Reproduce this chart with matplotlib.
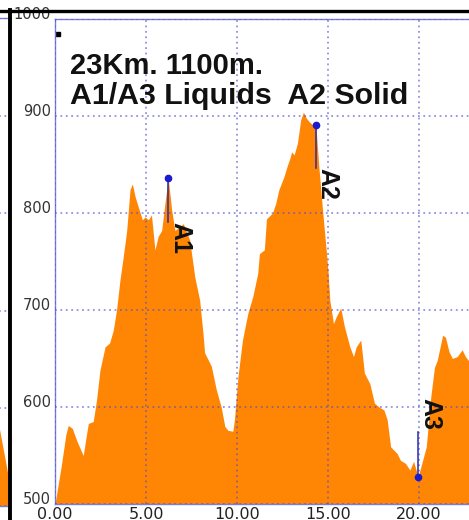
import matplotlib
matplotlib.use('Agg')
import matplotlib.pyplot as plt
from matplotlib.lines import Line2D

# Elevation profile (km, m)
km = [0.0, 0.35, 0.6, 0.73, 0.95, 1.2, 1.55, 1.7, 1.83, 2.1, 2.28, 2.47, 2.75,
      3.0, 3.2, 3.38, 3.57, 3.75, 3.94, 4.12, 4.25, 4.4, 4.58, 4.8, 4.95, 5.13,
      5.3, 5.49, 5.67, 5.86, 6.04, 6.22, 6.41, 6.59, 6.86, 7.05, 7.4, 7.68,
      7.95, 8.13, 8.22, 8.59, 8.86, 9.13, 9.33, 9.5, 9.77, 9.86, 10.05, 10.3,
      10.6, 10.87, 11.14, 11.23, 11.5, 11.62, 11.95, 12.13, 12.3, 12.57, 12.75,
      12.9, 13.0, 13.14, 13.32, 13.5, 13.65, 13.8, 13.97, 14.15, 14.33, 14.5,
      14.7, 14.9, 15.0, 15.1, 15.3, 15.45, 15.64, 15.7, 15.9, 16.2, 16.4,
      16.55, 16.8, 17.0, 17.3, 17.55, 17.8, 18.07, 18.25, 18.44, 18.8, 18.98,
      19.25, 19.5, 19.7, 19.95, 20.2, 20.4, 20.65, 20.85, 21.0, 21.3, 21.45,
      21.65, 21.83, 22.1, 22.37, 22.55, 22.8, 23.0]
elev = [500, 540, 572, 581, 578, 565, 550, 568, 583, 585, 607, 638, 662,
        666, 679, 700, 731, 755, 782, 824, 830, 817, 806, 793, 796, 793,
        798, 762, 776, 782, 810, 836, 803, 782, 786, 789, 772, 734,
        710, 676, 656, 642, 618, 600, 580, 576, 575, 587, 631, 669,
        697, 714, 738, 758, 762, 794, 800, 810, 824, 837, 848,
        856, 863, 860, 872, 896, 904, 898, 894, 891, 891, 847,
        803, 762, 740, 710, 686, 693, 700, 702, 683, 662, 652,
        662, 669, 635, 624, 604, 600, 597, 587, 559, 552, 545,
        542, 535, 544, 528, 545, 559, 611, 641, 648, 674, 672,
        657, 650, 652, 659, 652, 646, 640]

# Waypoints
wp_names = ['A1', 'A2', 'A3']
wp_km = [6.22, 14.33, 19.95]
wp_elev = [836, 891, 528]
wp_label_top = [791, 846, 609]
wp_line_end = [791, 846, 574]

# tail of the neighbouring profile at the far left
left_km = [21.8, 22.2, 22.56, 22.8, 23.0]
left_elev = [640, 610, 576, 552, 532]

corner_mark = (0.16, 985)

xticks = [0, 5, 10, 15, 20]
yticks = [500, 600, 700, 800, 900, 1000]

orange = '#ff8605'
grid_c = '#4a4ad0'
spine_c = '#7b7bdc'

W, H = 469, 520
fig = plt.figure(figsize=(W / 100, H / 100), dpi=100)
fig.patch.set_facecolor('white')

pxkm = 18.2
y_bot, y_top = 504, 19


def style(ax):
    ax.set_ylim(500, 1000)
    ax.set_yticks(yticks)
    ax.set_xticks(xticks)
    ax.grid(True, color=grid_c, alpha=0.6, linestyle=(0, (1, 2)), lw=1.3)
    ax.set_axisbelow(False)
    for s in ['top', 'bottom', 'left']:
        ax.spines[s].set_color(spine_c)
        ax.spines[s].set_linewidth(1.0)
    ax.spines['right'].set_visible(False)
    ax.tick_params(length=0)


# neighbouring chart fragment
ax0 = fig.add_axes([(8 - 23 * pxkm) / W, (H - 506) / H,
                    23 * pxkm / W, (506 - 18) / H])
ax0.fill_between(left_km, left_elev, 500, color=orange, lw=0, zorder=1)
ax0.set_xlim(0, 23)
style(ax0)
ax0.set_xticklabels([])
ax0.set_yticklabels([])

# main chart
ax = fig.add_axes([55 / W, (H - y_bot) / H, 23 * pxkm / W, (y_bot - y_top) / H])
ax.fill_between(km, elev, 500, color=orange, lw=0, zorder=1)
ax.set_xlim(0, 23)
style(ax)
ax.set_xticklabels(['%.2f' % t for t in xticks], fontsize=11.5, color='#222222')
ax.set_yticklabels(['%d' % t for t in yticks], fontsize=10.5, color='#333333')
ax.tick_params(axis='x', pad=2)
ax.tick_params(axis='y', pad=3)
for lab in ax.get_yticklabels():
    lab.set_va('baseline')

for name, x, e, top, end in zip(wp_names, wp_km, wp_elev, wp_label_top, wp_line_end):
    ax.plot([x, x], [e, end], color='#2a2aa8', lw=1.1, zorder=3)
    ax.plot([x], [e], 'o', color='#1a1ad0', ms=4.5, zorder=4)
    ax.text(x, top, name, rotation=-90, ha='left', va='top', fontsize=18,
            fontweight='bold', family='Liberation Sans', color='#111111', zorder=5)

ax.plot([corner_mark[0]], [corner_mark[1]], 's', color='black', ms=2.5)

fig.text(70 / W, 1 - 74 / H, '23Km. 1100m.', fontsize=21, fontweight='bold',
         family='Liberation Sans', va='baseline', color='#111111')
fig.text(70 / W, 1 - 104 / H, 'A1/A3 Liquids  A2 Solid', fontsize=21.8,
         fontweight='bold', family='Liberation Sans', va='baseline', color='#111111')

# black frame of the composite image
fig.add_artist(Line2D([0, 1], [1 - 10.5 / H, 1 - 10.5 / H], transform=fig.transFigure,
                      color='black', lw=2.4, zorder=10))
fig.add_artist(Line2D([9.5 / W, 9.5 / W], [0, 1 - 9.5 / H], transform=fig.transFigure,
                      color='black', lw=2.8, zorder=10))

fig.savefig('out.png', dpi=100)
